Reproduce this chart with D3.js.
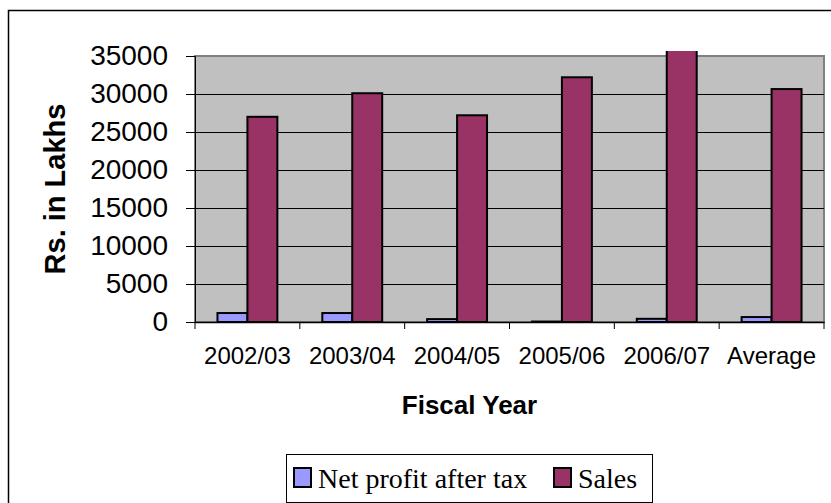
<!DOCTYPE html>
<html>
<head>
<meta charset="utf-8">
<script src="https://cdn.jsdelivr.net/npm/d3@7"></script>
<style>
  body { margin: 0; background: #fff; }
  svg { display: block; }
</style>
</head>
<body>
<svg id="chart" width="831" height="503"></svg>
<script>
// data
const years = ["2002/03", "2003/04", "2004/05", "2005/06", "2006/07", "Average"];
const seriesNames = ["Net profit after tax", "Sales"];
const netProfit = [1180, 1180, 380, 60, 420, 650];
const sales = [27000, 30100, 27200, 32200, 36750, 30650];
const yTicks = [0, 5000, 10000, 15000, 20000, 25000, 30000, 35000];
const seriesColours = ["#9999FF", "#993366"];

const svg = d3.select("#chart");

// outer chart frame (runs off the right/bottom edge)
svg.append("rect")
    .attr("x", 8.5).attr("y", 10.5)
    .attr("width", 840).attr("height", 520)
    .attr("fill", "#fff")
    .attr("stroke", "#000")
    .attr("stroke-width", 1.5);

const plot = {left: 195, right: 824, top: 56, bottom: 322};

const x0 = d3.scaleBand(years, [plot.left, plot.right]);
const gap = x0.bandwidth() * 0.75 / 3.5;
const x1 = d3.scaleBand(seriesNames, [gap, x0.bandwidth() - gap]);
const y = d3.scaleLinear([0, 35000], [plot.bottom, plot.top]);

// plot area
svg.append("rect")
    .attr("x", plot.left).attr("y", plot.top)
    .attr("width", plot.right - plot.left)
    .attr("height", plot.bottom - plot.top)
    .attr("fill", "#C0C0C0")
    .attr("stroke", "#808080")
    .attr("stroke-width", 2);

// gridlines
svg.append("g")
    .selectAll("line")
    .data(yTicks.filter(d => d > 0 && d < 35000))
    .enter().append("line")
    .attr("x1", plot.left).attr("x2", plot.right)
    .attr("y1", d => y(d) + 0.5).attr("y2", d => y(d) + 0.5)
    .attr("stroke", "#000")
    .attr("stroke-width", 1);

svg.append("clipPath").attr("id", "clip")
    .append("rect")
    .attr("x", 0).attr("y", 51)
    .attr("width", 831).attr("height", 400);

// bars
const rows = years.map((yr, i) => ({year: yr, values: [netProfit[i], sales[i]]}));
const groups = svg.append("g")
    .attr("clip-path", "url(#clip)")
    .selectAll("g")
    .data(rows)
    .enter().append("g")
    .attr("transform", d => "translate(" + x0(d.year) + ",0)");

groups.selectAll("rect")
    .data(d => d.values.map((v, j) => ({name: seriesNames[j], value: v, j: j})))
    .enter().append("rect")
    .attr("x", d => x1(d.name))
    .attr("y", d => y(d.value))
    .attr("width", x1.bandwidth())
    .attr("height", d => y(0) - y(d.value))
    .attr("fill", d => seriesColours[d.j])
    .attr("stroke", "#000")
    .attr("stroke-width", 2);

// y axis
const yAxis = d3.axisLeft(y).tickValues(yTicks).tickSize(9).tickPadding(18)
    .tickFormat(d3.format("d"));
const gy = svg.append("g")
    .attr("transform", "translate(" + plot.left + ",0)")
    .call(yAxis);
gy.select(".domain").attr("stroke", "#000").attr("stroke-width", 1);
gy.selectAll("line").attr("stroke", "#000");
gy.selectAll("text")
    .attr("font-family", "Liberation Sans, Arial, sans-serif")
    .attr("font-size", "28px")
    .attr("fill", "#000");

// x axis
const xAxis = d3.axisBottom(x0).tickSize(0).tickPadding(25);
const gx = svg.append("g")
    .attr("transform", "translate(0," + plot.bottom + ")")
    .call(xAxis);
gx.select(".domain").attr("stroke", "#000").attr("stroke-width", 1.5);
gx.selectAll("text")
    .attr("font-family", "Liberation Sans, Arial, sans-serif")
    .attr("font-size", "24px")
    .attr("fill", "#000");
// tick marks on category boundaries
gx.append("g")
    .selectAll("line")
    .data(years.map(d => x0(d)).concat([plot.right]))
    .enter().append("line")
    .attr("x1", d => d).attr("x2", d => d)
    .attr("y1", 0).attr("y2", 7)
    .attr("stroke", "#000");

// axis titles
svg.append("text")
    .attr("transform", "translate(65," + (plot.top + plot.bottom) / 2 + ") rotate(-90)")
    .attr("text-anchor", "middle")
    .attr("font-family", "Liberation Sans, Arial, sans-serif")
    .attr("font-weight", "bold")
    .attr("font-size", "29px")
    .text("Rs. in Lakhs");

svg.append("text")
    .attr("x", 469.5).attr("y", 414)
    .attr("text-anchor", "middle")
    .attr("font-family", "Liberation Sans, Arial, sans-serif")
    .attr("font-weight", "bold")
    .attr("font-size", "26px")
    .text("Fiscal Year");

// legend
const legend = svg.append("g");
legend.append("rect")
    .attr("x", 286.5).attr("y", 454.5)
    .attr("width", 366).attr("height", 48)
    .attr("fill", "#fff")
    .attr("stroke", "#000")
    .attr("stroke-width", 1);

const legendX = [293, 553];
const items = legend.selectAll("g.item")
    .data(seriesNames)
    .enter().append("g")
    .attr("class", "item")
    .attr("transform", (d, i) => "translate(" + legendX[i] + ",0)");
items.append("rect")
    .attr("x", 1).attr("y", 468)
    .attr("width", 17).attr("height", 19)
    .attr("fill", (d, i) => seriesColours[i])
    .attr("stroke", "#000")
    .attr("stroke-width", 2);
items.append("text")
    .attr("x", 25).attr("y", 488)
    .attr("font-family", "Liberation Serif, Times New Roman, serif")
    .attr("font-size", "28px")
    .text(d => d);
</script>
</body>
</html>
